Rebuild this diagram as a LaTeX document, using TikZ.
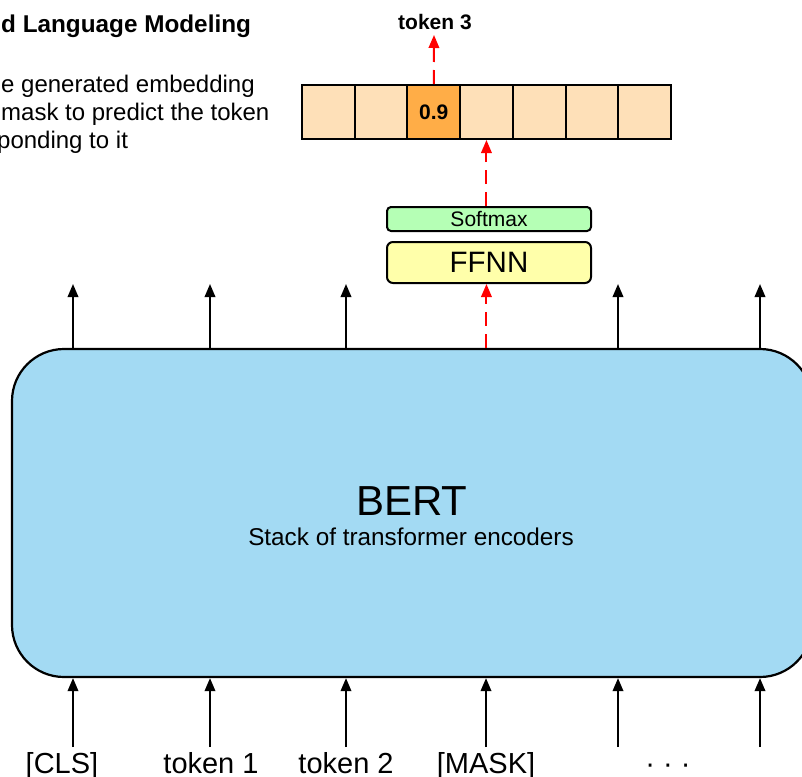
\documentclass[tikz,border=0pt]{standalone}
\usepackage{fontspec}
\setmainfont{Liberation Sans}
\usetikzlibrary{arrows.meta}

\definecolor{bertblue}{HTML}{A3DAF3}
\definecolor{cellpeach}{HTML}{FEE0B8}
\definecolor{cellorange}{HTML}{FFAD47}
\definecolor{softgreen}{HTML}{B5FFB5}
\definecolor{ffnnyellow}{HTML}{FFFFAA}
\definecolor{maskred}{HTML}{FF0000}

\newcommand{\fs}[1]{\fontsize{#1}{#1}\selectfont}

\tikzset{
  arr/.style={line width=2pt, -{Triangle[length=13pt,width=10.5pt]}},
  redarr/.style={line width=2pt, draw=maskred, dash pattern=on 14pt off 8pt,
                 -{Triangle[length=13pt,width=10.5pt]}, maskred},
  cell/.style={draw, line width=2pt, fill=cellpeach, minimum width=52.7pt,
               minimum height=54pt, inner sep=0pt, anchor=center},
  headbox/.style={draw, line width=2pt, minimum width=204pt, inner sep=0pt},
  lbl/.style={anchor=base, inner sep=0pt, font=\fs{29}},
  para/.style={anchor=base west, inner sep=0pt, font=\fs{24}},
}

\begin{document}
\begin{tikzpicture}[x=1pt, y=-1pt]
  \useasboundingbox (0,0) rectangle (802,776);
  \clip (0,0) rectangle (802,776);

  % heading and explanation at the top left
  \node[para, font=\fs{24.3}\bfseries] (title) at (1,33) {d Language Modeling};
  \node[para] (line1) at (1,92)  {e generated embedding};
  \node[para] (line2) at (1,120) {mask to predict the token};
  \node[para] (line3) at (-3,148) {ponding to it};

  % the encoder stack
  \node[draw, line width=2.2pt, fill=bertblue, rounded corners=52pt,
        minimum width=800pt, minimum height=328pt, inner sep=0pt]
        (bert) at (412,513) {};
  \node[anchor=base, inner sep=0pt, font=\fs{42}] (berttitle) at (412,515) {BERT};
  \node[anchor=base, inner sep=0pt, font=\fs{24.3}] (bertsub) at (411,545)
        {Stack of transformer encoders};

  % output distribution over the vocabulary
  \foreach \k in {1,...,7} {
    \node[cell] (c\k) at ({302+52.7*(\k-0.5)},112) {};
  }
  \node[cell, fill=cellorange, font=\fs{21}\bfseries] (c3) at ({302+52.7*2.5},112) {0.9};

  % classification head on the masked position
  \node[headbox, fill=softgreen, minimum height=24pt, rounded corners=4pt,
        font=\fs{21}] (softmax) at (489,219) {Softmax};
  \node[headbox, fill=ffnnyellow, minimum height=41pt, rounded corners=6pt,
        font=\fs{29.5}] (ffnn) at (489,262.5) {FFNN};

  \node[anchor=base, inner sep=0pt, font=\fs{21}\bfseries] (pred) at (435,30) {token 3};

  % masked-position path
  \coordinate (predtip) at (434,35);
  \draw[redarr] (bert.north -| c4) -- (ffnn.south -| c4);
  \draw[redarr] (softmax.north -| c4) -- (c4.south);
  \draw[redarr] (c3.north) -- (predtip);

  % output embeddings of the other positions
  \foreach \x [count=\i] in {73,210,346,618,760} {
    \coordinate (o\i) at (\x,284);
    \draw[arr] (bert.north -| o\i) -- (o\i);
  }

  % input tokens
  \foreach \x [count=\i] in {73,210,346,486,618,760} {
    \coordinate (i\i) at (\x,747);
    \draw[arr] (i\i) -- (bert.south -| i\i);
  }
  \node[lbl] (tcls)  at (62,773)  {[CLS]};
  \node[lbl] (tok1)  at (211,773) {token 1};
  \node[lbl] (tok2)  at (346,773) {token 2};
  \node[lbl] (tmask) at (486,773) {[MASK]};
  \node[lbl] (tdots) at (668,773) {· · ·};
\end{tikzpicture}
\end{document}
